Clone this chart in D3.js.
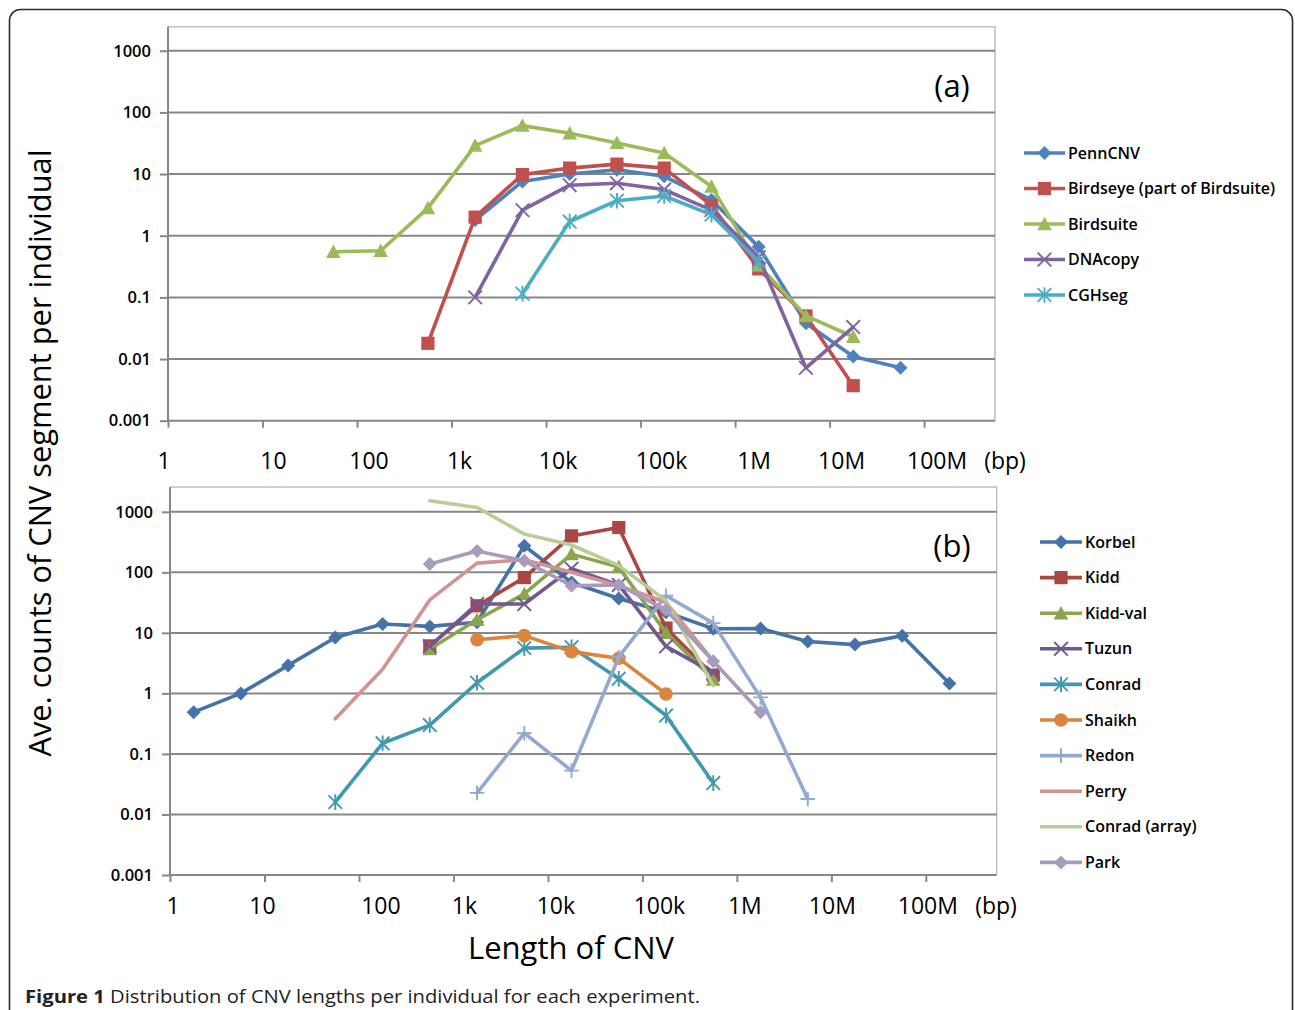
<!DOCTYPE html>
<html><head><meta charset="utf-8">
<script src="https://cdn.jsdelivr.net/npm/d3@7"></script>
<style>
html,body{margin:0;padding:0;background:#fff;}
svg{display:block;}
</style></head>
<body>
<script>
// ---------- DATA ----------
const binCentersBp = [1.78, 5.62, 17.8, 56.2, 178, 562, 1778, 5623, 17783, 56234, 177828, 562341, 1778279, 5623413, 17782794, 56234133, 177827941];
const xTickValues = [1, 10, 100, 1e3, 1e4, 1e5, 1e6, 1e7, 1e8];
const xTickLabels = ["1", "10", "100", "1k", "10k", "100k", "1M", "10M", "100M"];
const yTickValues = [0.001, 0.01, 0.1, 1, 10, 100, 1000];
const yTickLabels = ["0.001", "0.01", "0.1", "1", "10", "100", "1000"];

const namesA = ["PennCNV", "Birdseye (part of Birdsuite)", "Birdsuite", "DNAcopy", "CGHseg"];
const pennCNV   = [null,null,null,null,null,null,1.8,7.6,10,11.7,9.2,3.8,0.66,0.038,0.011,0.0072,null];
const birdseye  = [null,null,null,null,null,0.018,2.0,9.8,12.5,14.5,12.5,3.1,0.29,0.05,0.0037,null,null];
const birdsuite = [null,null,null,0.55,0.57,2.8,29,61,46,32,22,6.3,0.33,0.05,0.023,null,null];
const dnacopy   = [null,null,null,null,null,null,0.1,2.6,6.6,7.1,5.6,2.6,0.45,0.0072,0.033,null,null];
const cghseg    = [null,null,null,null,null,null,null,0.115,1.7,3.7,4.4,2.2,0.38,null,null,null,null];

const namesB = ["Korbel", "Kidd", "Kidd-val", "Tuzun", "Conrad", "Shaikh", "Redon", "Perry", "Conrad (array)", "Park"];
const korbel      = [0.49,1.0,2.9,8.4,14,12.8,15,275,68,37,22,11.7,11.8,7.2,6.4,9,1.46];
const kidd        = [null,null,null,null,null,6.1,28,82,400,550,12,2.0,null,null,null,null,null];
const kiddVal     = [null,null,null,null,null,5.4,16.5,44,200,122,10,1.7,null,null,null,null,null];
const tuzun       = [null,null,null,null,null,6.0,30,30,115,62,6.0,2.2,null,null,null,null,null];
const conrad      = [null,null,null,0.016,0.15,0.30,1.5,5.6,5.8,1.75,0.43,0.033,null,null,null,null,null];
const shaikh      = [null,null,null,null,null,null,7.7,9.0,4.9,3.8,0.98,null,null,null,null,null,null];
const redon       = [null,null,null,null,null,null,0.0227,0.22,0.053,4.0,41,14.5,0.86,0.018,null,null,null];
const perry       = [null,null,null,0.38,2.5,35,142,162,100,60,32,3.4,null,null,null,null,null];
const conradArray = [null,null,null,null,null,1520,1180,430,283,129,34,1.35,null,null,null,null,null];
const park        = [null,null,null,null,null,137,225,155,60,62,24,3.4,0.49,null,null,null,null];

// ---------- STYLE / LAYOUT ----------
const seriesA = [
  {name: namesA[0], values: pennCNV,   color: "#4F81BD", marker: "diamond"},
  {name: namesA[1], values: birdseye,  color: "#C0504D", marker: "square"},
  {name: namesA[2], values: birdsuite, color: "#9BBB59", marker: "triangle"},
  {name: namesA[3], values: dnacopy,   color: "#8064A2", marker: "x"},
  {name: namesA[4], values: cghseg,    color: "#4BACC6", marker: "star"}
];
const seriesB = [
  {name: namesB[0], values: korbel,      color: "#4572A7", marker: "diamond"},
  {name: namesB[1], values: kidd,        color: "#AA4643", marker: "square"},
  {name: namesB[2], values: kiddVal,     color: "#89A54E", marker: "triangle"},
  {name: namesB[3], values: tuzun,       color: "#71588F", marker: "x"},
  {name: namesB[4], values: conrad,      color: "#4198AF", marker: "star"},
  {name: namesB[5], values: shaikh,      color: "#DB843D", marker: "circle"},
  {name: namesB[6], values: redon,       color: "#93A9CF", marker: "plus"},
  {name: namesB[7], values: perry,       color: "#D19392", marker: "none"},
  {name: namesB[8], values: conradArray, color: "#B9CD96", marker: "none"},
  {name: namesB[9], values: park,        color: "#A99BBD", marker: "diamond"}
];

const W = 1295, H = 1010;
const FONT = "'Open Sans', 'Liberation Sans', sans-serif";
const GRID = "#878787";

const panels = [
  {series: seriesA, left: 168, right: 995, top: 26.7, bottom: 420.7, yMaxLog: 3.39,
   tag: "(a)", tagX: 952, tagY: 97, labelY: 469,
   labelNudge: [-4, 11, 12, 8, 12, 21, 19, 12, 13], bpX: 1005,
   legendX: 1024, legendY0: 153, legendStep: 35.5, legendLine: 41},
  {series: seriesB, left: 170, right: 996.7, top: 487, bottom: 875, yMaxLog: 3.41,
   tag: "(b)", tagX: 952, tagY: 557, labelY: 914,
   labelNudge: [3, -2, 22, 11, 8, 17, 8, 1, 2], bpX: 996,
   legendX: 1040, legendY0: 542, legendStep: 35.6, legendLine: 42}
];

const svg = d3.select("body").append("svg").attr("width", W).attr("height", H);

// outer rounded frame
svg.append("rect").attr("x", 9.5).attr("y", 9.5).attr("width", 1283).attr("height", 1030)
  .attr("rx", 11).attr("fill", "none").attr("stroke", "#2b2b2b").attr("stroke-width", 1.6);

function drawMarker(g, type, cx, cy, color) {
  if (type === "diamond") {
    const s = 7;
    g.append("path").attr("d", `M${cx},${cy - s}L${cx + s},${cy}L${cx},${cy + s}L${cx - s},${cy}Z`).attr("fill", color);
  } else if (type === "square") {
    const s = 6.6;
    g.append("rect").attr("x", cx - s).attr("y", cy - s).attr("width", 2 * s).attr("height", 2 * s).attr("fill", color);
  } else if (type === "triangle") {
    const s = 7.3;
    g.append("path").attr("d", `M${cx},${cy - s}L${cx + s},${cy + s * 0.85}L${cx - s},${cy + s * 0.85}Z`).attr("fill", color);
  } else if (type === "circle") {
    g.append("circle").attr("cx", cx).attr("cy", cy).attr("r", 6.8).attr("fill", color);
  } else if (type === "x") {
    const s = 6.8;
    g.append("path").attr("d", `M${cx - s},${cy - s}L${cx + s},${cy + s}M${cx - s},${cy + s}L${cx + s},${cy - s}`)
      .attr("stroke", color).attr("stroke-width", 1.9).attr("fill", "none");
  } else if (type === "star") {
    const s = 6.8;
    g.append("path").attr("d", `M${cx - s},${cy - s}L${cx + s},${cy + s}M${cx - s},${cy + s}L${cx + s},${cy - s}M${cx},${cy - s - 1}L${cx},${cy + s + 1}`)
      .attr("stroke", color).attr("stroke-width", 1.9).attr("fill", "none");
  } else if (type === "plus") {
    const s = 7.3;
    g.append("path").attr("d", `M${cx - s},${cy}L${cx + s},${cy}M${cx},${cy - s}L${cx},${cy + s}`)
      .attr("stroke", color).attr("stroke-width", 1.9).attr("fill", "none");
  }
}

panels.forEach(p => {
  const x = d3.scaleLog().domain([1, Math.pow(10, 8.75)]).range([p.left, p.right]);
  const y = d3.scaleLog().domain([0.001, Math.pow(10, p.yMaxLog)]).range([p.bottom, p.top]);
  const g = svg.append("g");

  // plot border (top / right)
  g.append("path").attr("d", `M${p.left},${p.top}H${p.right}V${p.bottom}`)
    .attr("fill", "none").attr("stroke", "#BFBFBF").attr("stroke-width", 1.5);

  // gridlines
  g.selectAll("line.grid").data(yTickValues.slice(1)).join("line")
    .attr("x1", p.left).attr("x2", p.right)
    .attr("y1", d => y(d)).attr("y2", d => y(d))
    .attr("stroke", GRID).attr("stroke-width", 2);

  // y axis
  const yAxis = d3.axisLeft(y).tickValues(yTickValues)
    .tickFormat((d, i) => yTickLabels[i]).tickSize(8).tickPadding(9);
  const ya = g.append("g").attr("transform", `translate(${p.left},0)`).call(yAxis);
  ya.select(".domain").attr("stroke", GRID).attr("stroke-width", 2)
    .attr("d", `M0,${p.top}V${p.bottom}`);
  ya.selectAll(".tick line").attr("stroke", GRID).attr("stroke-width", 2);
  ya.selectAll(".tick text").attr("font-family", FONT).attr("font-size", 16.5)
    .attr("font-weight", 600).attr("fill", "#000");

  // x axis (ticks only; labels are separate text boxes below)
  const xAxis = d3.axisBottom(x).tickValues(xTickValues).tickFormat("").tickSize(7);
  const xa = g.append("g").attr("transform", `translate(0,${p.bottom})`).call(xAxis);
  xa.select(".domain").attr("stroke", GRID).attr("stroke-width", 2)
    .attr("d", `M${p.left},0H${p.right}`);
  xa.selectAll(".tick line").attr("stroke", GRID).attr("stroke-width", 2);

  g.selectAll("text.xl").data(xTickValues).join("text")
    .attr("x", (d, i) => x(d) + p.labelNudge[i]).attr("y", p.labelY)
    .attr("text-anchor", "middle").attr("font-family", FONT).attr("font-size", 23)
    .text((d, i) => xTickLabels[i]);
  g.append("text").attr("x", p.bpX).attr("y", p.labelY).attr("text-anchor", "middle")
    .attr("font-family", FONT).attr("font-size", 23).text("(bp)");

  // panel tag
  g.append("text").attr("x", p.tagX).attr("y", p.tagY).attr("text-anchor", "middle")
    .attr("font-family", FONT).attr("font-size", 31).text(p.tag);

  // series
  const line = d3.line().defined(d => d.v != null).x(d => x(d.bp)).y(d => y(d.v));
  p.series.forEach(s => {
    const pts = s.values.map((v, i) => ({bp: binCentersBp[i], v}));
    const sg = g.append("g");
    sg.append("path").attr("d", line(pts)).attr("fill", "none")
      .attr("stroke", s.color).attr("stroke-width", 3.6)
      .attr("stroke-linejoin", "round").attr("stroke-linecap", "round");
    pts.filter(d => d.v != null).forEach(d => drawMarker(sg, s.marker, x(d.bp), y(d.v), s.color));
  });

  // legend
  p.series.forEach((s, i) => {
    const ly = p.legendY0 + i * p.legendStep;
    const lg = svg.append("g");
    lg.append("line").attr("x1", p.legendX).attr("x2", p.legendX + p.legendLine)
      .attr("y1", ly).attr("y2", ly).attr("stroke", s.color).attr("stroke-width", 3.6);
    drawMarker(lg, s.marker, p.legendX + p.legendLine / 2, ly, s.color);
    lg.append("text").attr("x", p.legendX + p.legendLine + 3).attr("y", ly + 5.5)
      .attr("font-family", FONT).attr("font-size", 16).attr("font-weight", 600)
      .attr("fill", "#000").text(s.name);
  });
});

// axis titles
svg.append("text").attr("transform", "translate(51,453) rotate(-90)")
  .attr("text-anchor", "middle").attr("font-family", FONT).attr("font-size", 31)
  .attr("textLength", 607).attr("lengthAdjust", "spacingAndGlyphs")
  .text("Ave. counts of CNV segment per individual");
svg.append("text").attr("x", 571).attr("y", 959).attr("text-anchor", "middle")
  .attr("font-family", FONT).attr("font-size", 31)
  .attr("textLength", 206).attr("lengthAdjust", "spacingAndGlyphs").text("Length of CNV");

// caption
const cap = svg.append("text").attr("x", 25).attr("y", 1003)
  .attr("font-family", FONT).attr("font-size", 18.5).attr("fill", "#222")
  .attr("textLength", 675).attr("lengthAdjust", "spacingAndGlyphs");
cap.append("tspan").attr("font-weight", 700).text("Figure 1");
cap.append("tspan").text(" Distribution of CNV lengths per individual for each experiment.");
</script>
</body></html>
